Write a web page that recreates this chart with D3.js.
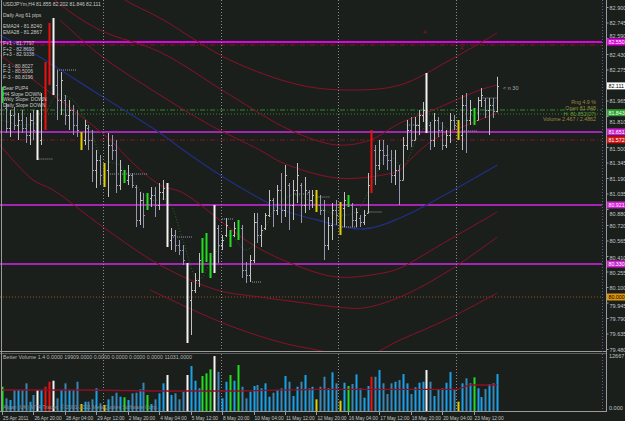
<!DOCTYPE html>
<html>
<head>
<meta charset="utf-8">
<script src="https://cdn.jsdelivr.net/npm/d3@7"></script>
<style>
  body { margin: 0; background: #1a1f1b; }
  svg text { font-family: "Liberation Sans", Arial, sans-serif; }
</style>
</head>
<body>
<div id="chart"></div>
<script>
// USDJPYm H4 bars
const highs = [82.10,81.94,81.87,81.90,81.84,81.87,81.80,81.84,81.87,81.87,
 82.04,82.35,82.74,82.79,82.27,82.25,82.02,81.97,81.92,81.87,
 81.65,81.77,81.72,81.67,81.47,81.42,81.34,81.64,81.62,81.57,
 81.37,81.27,81.32,81.24,81.12,81.05,81.04,81.04,81.10,81.10,
 81.14,81.17,81.14,80.69,80.67,80.57,80.52,80.34,80.15,80.24,
 80.44,80.59,80.64,80.44,80.92,80.72,80.62,80.79,80.67,80.75,
 80.77,80.72,80.35,80.42,80.84,80.84,80.72,80.84,81.07,80.99,
 81.12,81.24,81.32,81.14,81.17,81.34,81.14,81.20,81.07,81.07,
 81.07,81.02,80.97,80.80,80.94,80.97,80.95,81.05,81.02,80.94,
 80.89,80.82,80.87,81.24,81.67,81.52,81.57,81.57,81.52,81.47,
 81.47,81.32,81.60,81.77,81.80,81.80,81.87,81.95,82.24,81.75,
 81.84,81.80,81.75,81.67,81.84,81.82,81.77,82.02,82.04,81.97,
 81.89,82.00,82.09,81.99,81.99,81.99,82.202];
const lows = [81.94,81.64,81.60,81.67,81.57,81.64,81.54,81.52,81.57,81.37,
 81.52,81.67,82.12,82.02,81.77,81.82,81.72,81.67,81.62,81.60,
 81.47,81.52,81.47,81.15,81.09,81.12,81.10,81.00,81.37,81.04,
 81.07,81.14,81.12,81.09,80.70,80.72,80.69,80.87,80.90,80.80,
 80.87,80.97,80.50,80.47,80.45,80.42,80.32,79.54,79.62,80.04,
 80.10,80.24,80.35,80.19,80.24,80.34,80.47,80.60,80.50,80.60,
 80.57,80.19,80.14,80.15,80.34,80.54,80.50,80.67,80.80,80.70,
 80.82,80.74,80.80,80.67,80.77,80.94,80.74,80.84,80.87,80.89,
 80.85,80.82,80.37,80.47,80.57,80.72,80.62,80.70,80.90,80.70,
 80.70,80.70,80.72,80.84,81.04,81.12,81.27,81.32,81.27,81.14,
 81.12,80.92,81.17,81.47,81.50,81.57,81.62,81.75,81.64,81.47,
 81.50,81.60,81.47,81.49,81.54,81.67,81.57,81.47,81.44,81.72,
 81.72,81.77,81.90,81.79,81.62,81.79,81.846];
const opens = [81.97,81.89,81.69,81.82,81.72,81.77,81.69,81.62,81.77,81.67,
 81.57,81.97,82.27,82.67,82.12,81.97,81.97,81.82,81.87,81.72,
 81.62,81.57,81.69,81.57,81.27,81.37,81.22,81.27,81.52,81.47,
 81.12,81.25,81.17,81.22,81.10,80.77,80.97,80.89,80.99,81.02,
 80.92,81.05,81.09,80.57,80.62,80.52,80.47,80.32,79.97,80.07,
 80.17,80.35,80.52,80.42,80.27,80.69,80.52,80.62,80.65,80.62,
 80.69,80.69,80.27,80.22,80.37,80.75,80.62,80.69,80.82,80.97,
 80.87,81.07,80.87,81.12,80.92,81.07,81.12,80.92,81.05,80.97,
 81.02,80.92,80.87,80.52,80.72,80.87,80.82,80.89,80.97,80.92,
 80.77,80.79,80.75,80.84,81.12,81.47,81.32,81.47,81.42,81.37,
 81.22,81.27,81.17,81.52,81.67,81.57,81.72,81.82,81.87,81.72,
 81.57,81.77,81.67,81.52,81.62,81.77,81.72,81.62,81.92,81.77,
 81.87,81.77,81.97,81.97,81.87,81.92,81.855];
const closes = [82.07,81.69,81.82,81.72,81.77,81.69,81.62,81.77,81.67,81.47,
 81.97,82.27,82.67,82.12,81.97,82.17,81.82,81.87,81.72,81.67,
 81.52,81.72,81.57,81.27,81.37,81.22,81.27,81.52,81.47,81.12,
 81.27,81.17,81.22,81.12,80.77,80.97,80.82,80.99,81.02,80.92,
 81.05,81.09,80.57,80.62,80.52,80.47,80.37,79.97,80.07,80.17,
 80.37,80.52,80.42,80.27,80.82,80.52,80.57,80.72,80.57,80.69,
 80.72,80.27,80.22,80.37,80.75,80.62,80.67,80.82,80.97,80.87,
 81.07,80.87,81.22,80.92,81.07,81.22,80.92,81.07,80.97,81.02,
 80.92,80.87,80.52,80.72,80.87,80.82,80.89,80.97,80.92,80.77,
 80.85,80.75,80.82,81.12,81.57,81.32,81.47,81.42,81.37,81.22,
 81.27,81.17,81.52,81.67,81.57,81.72,81.82,81.87,81.72,81.57,
 81.77,81.67,81.52,81.62,81.77,81.72,81.62,81.92,81.77,81.87,
 81.77,81.97,82.02,81.87,81.92,81.86,82.111];
const volumes = [5490,2870,2490,4750,4750,4750,6260,2100,3620,4750,
 4750,5490,6620,6850,2870,4750,6260,4750,4750,6620,
 1580,2100,2100,2640,5130,1740,1360,2640,3390,4140,
 3230,3100,2490,4000,4140,4900,6400,3620,1580,2640,
 4000,6260,8140,3620,4000,2640,4360,8140,10170,6850,
 5130,7910,8520,9420,12430,8880,2870,6620,8140,6850,
 10400,5490,2870,4360,5650,5880,5130,6260,3230,4140,
 4750,5130,7910,6620,3390,5490,6620,8140,5130,5490,
 2640,5490,7750,5130,8750,6260,2330,6400,5650,6100,
 8290,5130,3010,5650,7750,7750,9270,6260,3840,6260,
 6620,7010,8360,6260,3840,5360,6400,6620,9270,6620,
 3390,4900,5130,6400,8810,4750,2100,6260,7390,6260,
 7620,5130,3160,4970,6100,6260,8360];

// Better Volume colour flags (bar index)
const greenBars = [0,31,37,51,52,53,58,60,88,120];
const redBars = [11,12,94];
const whiteBars = [9,13,42,47,54,108];
const yellowBars = [20,26,80,86,116];

// indicator lines, [bar index, price]
const emaBlue = [[-0.5,82.62],[7.9,82.44],[24.9,82.02],[40.2,81.64],[46.1,81.47],[54.7,81.24],[63.1,81.04],[71.5,80.87],[80.2,80.77],[91.9,80.68],[101.3,80.79],[114,81.05],[126,81.32]];
const bandU3 = [[22.4,83.22],[31.3,82.97],[40.2,82.79],[58,82.37],[75.8,82.12],[88.5,82.07],[101.3,82.12],[114,82.37],[126,82.64]];
const bandU2 = [[4.6,83.37],[13.5,82.97],[24.9,82.67],[40.2,82.45],[58,82.02],[73.3,81.67],[85.2,81.52],[93.7,81.57],[101.3,81.74],[109.7,81.87],[121.6,82.07],[126,82.12]];
const bandU1 = [[14.8,82.77],[24.9,82.42],[40.2,82.02],[52.9,81.72],[65.6,81.47],[71.5,81.34],[85.2,81.19],[96.9,81.22],[101.3,81.27],[103.8,81.37],[109.7,81.57],[118.3,81.72],[126,81.84]];
const bandL1 = [[-0.5,82.42],[10.4,82.10],[18.1,81.87],[27.5,81.57],[33.3,81.34],[40.2,81.12],[46.1,81.04],[63.1,80.54],[73.3,80.34],[85.2,80.20],[96.9,80.24],[101.3,80.29],[111.5,80.52],[126,80.85]];
const bandL2 = [[-0.5,81.52],[7.9,81.17],[13,81.07],[25.7,80.70],[40.2,80.32],[54.7,80.07],[65.6,80.00],[75.1,79.95],[85.2,79.90],[91.9,79.89],[101.3,80.00],[114,80.27],[126,80.60]];
const bandL3 = [[37.7,80.07],[48.6,79.87],[58.8,79.70],[71.5,79.54],[80.2,79.47],[91.1,79.39],[101.3,79.57],[114,79.79],[126,80.04]];
const maGreen = [[0,81.77],[6,81.72],[10,81.77],[14,82.02],[18,81.97],[22,81.72],[26,81.37],[30,81.32],[34,81.12],[38,80.97],[42,80.97],[46,80.57],[50,80.17],[54,80.42],[58,80.62],[62,80.47],[66,80.62],[70,80.92],[74,81.02],[78,80.97],[82,80.87],[86,80.82],[90,80.85],[94,81.12],[98,81.42],[102,81.32],[106,81.62],[110,81.77],[114,81.67],[118,81.77],[122,81.87],[126,81.97]];
const volMA = [[0,4750],[20,4750],[40,4520],[60,4520],[80,4900],[100,4900],[116,4900],[119,5880],[126,5880]];

// short pivot dashes [from bar, to bar, price]
const dashes = [[14,19,82.27],[9,13,81.38],[27,37,81.23],[43.5,48.6,80.60],[56,59,80.78],[63.6,66,80.15],[74,78,81.03],[80,83.5,81.00],[86.5,90.6,80.70],[93,96.7,80.85],[103,106,81.72],[117,121,81.66],[122,126,81.99]];

// horizontal levels
const levelPrices = [82.55, 82.52, 81.87, 81.83, 81.65, 81.57, 80.92, 80.33, 80.00];
const levelColors = ["#e000e0", "#8a1030", "#2f8a2f", "#2f8a2f", "#a424b4", "#8a1030", "#a424b4", "#a424b4", "#a0501c"];
const levelWidths = [2, 1, 1, 1, 2, 1, 2, 2, 1];
const levelDash = [null, "5,2,1,2", "5,2,1,2", "1,2", null, "5,2,1,2", null, null, "1,2"];

const boxPrices = [82.550, 82.111, 81.843, 81.651, 81.572, 80.921, 80.330, 80.000];
const boxFills = ["#e000e0", "#ffffff", "#2ea02e", "#d020d0", "#dd1010", "#d020d0", "#d020d0", "#e0960a"];
const boxText = ["#ffffff", "#000000", "#ffffff", "#ffffff", "#ffffff", "#ffffff", "#ffffff", "#000000"];

const priceTicks = [82.900, 82.745, 82.590, 82.430, 82.275, 82.115, 81.965, 81.810, 81.650, 81.500, 81.345, 81.190, 81.035, 80.880, 80.720, 80.565, 80.410, 80.255, 80.100, 79.945, 79.790, 79.635, 79.480];

const dateLabels = ["25 Apr 2011", "26 Apr 20:00", "28 Apr 04:00", "29 Apr 12:00", "2 May 20:00", "4 May 04:00", "5 May 12:00", "8 May 20:00", "10 May 04:00", "11 May 12:00", "12 May 20:00", "16 May 04:00", "17 May 12:00", "18 May 20:00", "20 May 04:00", "23 May 12:00"];
const dateIdx = [0, 8, 16, 24, 32, 40, 48, 56, 64, 72, 80, 88, 96, 104, 112, 120];
const weekStarts = [26, 56, 86, 116];

const infoLines = ["USDJPYm,H4  81.855 82.202 81.846 82.111", "", "Daily Avg 61 pips", "", "EMA24 - 81.8240", "EMA28 - 81.2867", "", "F+1 - 81.7797", "F+2 - 82.8690", "F+3 - 82.9336", "", "F-1 - 80.8027", "F-2 - 80.5006", "F-3 - 80.8196", "", "Bear PUP4", "H4 Slope DOWN", "Wkly Slope: DOWN", "Daily Slope DOWN"];
const statLines = ["Rng    4.9 %", "Open   81.848", "H:  81.852(27)", "Volume   2.467 / 2.4862"];

const width = 625, height = 421;
const X = d3.scaleLinear().domain([0, 126]).range([2, 497.2]);
const Y = d3.scaleLinear().domain([79.46, 82.97]).range([351, 0]);
const V = d3.scaleLinear().domain([0, 12667]).range([411, 355]);

const svg = d3.select("#chart").append("svg")
  .attr("width", width).attr("height", height);

svg.append("rect").attr("width", width).attr("height", height).attr("fill", "#1a1f1b");

const defs = svg.append("defs");
defs.append("clipPath").attr("id", "mainclip")
  .append("rect").attr("x", 0).attr("y", 0).attr("width", 602).attr("height", 351);

const main = svg.append("g").attr("clip-path", "url(#mainclip)");

// week separators
svg.selectAll(".sep").data(weekStarts).join("line")
  .attr("x1", d => Math.round(X(d) - 1.5) + 0.5).attr("x2", d => Math.round(X(d) - 1.5) + 0.5)
  .attr("y1", 0).attr("y2", 411)
  .attr("stroke", "#8a8a96").attr("stroke-dasharray", "1,2");

// levels
main.selectAll(".lvl").data(levelPrices).join("line")
  .attr("x1", 0).attr("x2", 602)
  .attr("y1", d => Y(d)).attr("y2", d => Y(d))
  .attr("stroke", (d, i) => levelColors[i])
  .attr("stroke-width", (d, i) => levelWidths[i])
  .attr("stroke-dasharray", (d, i) => levelDash[i]);

const line = d3.line().x(d => X(d[0])).y(d => Y(d[1])).curve(d3.curveCatmullRom.alpha(0.5));

[bandU3, bandU2, bandU1, bandL1, bandL2, bandL3].forEach(b => {
  main.append("path").attr("d", line(b)).attr("fill", "none")
    .attr("stroke", "#8c1028").attr("stroke-width", 1);
});
main.append("path").attr("d", line(emaBlue)).attr("fill", "none")
  .attr("stroke", "#222e82").attr("stroke-width", 1.3);
main.append("path").attr("d", line(maGreen)).attr("fill", "none")
  .attr("stroke", "#1f6a1f").attr("stroke-width", 1).attr("stroke-dasharray", "1,2");

// pivot dashes
main.selectAll(".dash").data(dashes).join("line")
  .attr("x1", d => X(d[0])).attr("x2", d => X(d[1]))
  .attr("y1", d => Y(d[2])).attr("y2", d => Y(d[2]))
  .attr("stroke", "#9a9aae").attr("stroke-dasharray", "1,1");

function special(i) {
  if (greenBars.includes(i)) return "#22dd22";
  if (redBars.includes(i)) return "#ee1111";
  if (whiteBars.includes(i)) return "#f4f4f4";
  if (yellowBars.includes(i)) return "#e0d000";
  return null;
}

const bars = d3.range(highs.length);
const barG = main.selectAll(".bar").data(bars).join("g");
barG.each(function (i) {
  const g = d3.select(this);
  const col = special(i);
  const x = Math.round(X(i)) + 0.5;
  if (col) {
    g.append("rect").attr("x", x - 1).attr("width", 2)
      .attr("y", Y(highs[i])).attr("height", Y(lows[i]) - Y(highs[i]))
      .attr("fill", col);
  } else {
    const c = closes[i] >= opens[i] ? "#c2c2c2" : "#9696b2";
    g.append("line").attr("x1", x).attr("x2", x)
      .attr("y1", Y(highs[i])).attr("y2", Y(lows[i])).attr("stroke", c);
    g.append("line").attr("x1", x - 1.5).attr("x2", x)
      .attr("y1", Math.round(Y(opens[i])) + 0.5).attr("y2", Math.round(Y(opens[i])) + 0.5).attr("stroke", c);
    g.append("line").attr("x1", x).attr("x2", x + 1.5)
      .attr("y1", Math.round(Y(closes[i])) + 0.5).attr("y2", Math.round(Y(closes[i])) + 0.5).attr("stroke", c);
  }
});

// volume panel
svg.selectAll(".vol").data(bars).join("rect")
  .attr("x", i => Math.round(X(i)) - 0.5).attr("width", 2)
  .attr("y", i => V(volumes[i])).attr("height", i => 411 - V(volumes[i]))
  .attr("fill", i => special(i) || (closes[i] >= opens[i] ? "#18a2ec" : "#3a86b4"));

svg.append("path").attr("d", d3.line().x(d => X(d[0])).y(d => V(d[1]))(volMA))
  .attr("fill", "none").attr("stroke", "#8c1028").attr("stroke-width", 1.3);

// frame
svg.append("line").attr("x1", 0).attr("x2", 607).attr("y1", 351.5).attr("y2", 351.5).attr("stroke", "#9a9a9a");
svg.append("line").attr("x1", 0).attr("x2", 607).attr("y1", 353.5).attr("y2", 353.5).attr("stroke", "#5a5a5a");
svg.append("line").attr("x1", 0).attr("x2", 607).attr("y1", 411.5).attr("y2", 411.5).attr("stroke", "#9a9a9a");
svg.append("line").attr("x1", 1.5).attr("x2", 1.5).attr("y1", 0).attr("y2", 412).attr("stroke", "#9a9a9a");
svg.append("line").attr("x1", 606.5).attr("x2", 606.5).attr("y1", 0).attr("y2", 412).attr("stroke", "#9a9a9a");
svg.append("line").attr("x1", 602.5).attr("x2", 602.5).attr("y1", 0).attr("y2", 411)
  .attr("stroke", "#5a5aa0").attr("stroke-dasharray", "1,2");

// price axis; labels next to a price box are nudged clear of it or hidden under it
const yAxis = d3.axisRight(Y).tickValues(priceTicks).tickSize(2).tickFormat(d3.format(".3f"));
const ya = svg.append("g").attr("transform", "translate(606.5,0)").call(yAxis);
ya.select(".domain").remove();
ya.selectAll("line").attr("stroke", "#9a9a9a");
ya.selectAll("text").attr("fill", "#c4c4c4").attr("font-size", 5.5).attr("x", 3).attr("dy", null).attr("y", 2);
ya.selectAll(".tick").each(function (t) {
  const near = boxPrices.map(b => Y(t) - Y(b)).sort((a, b) => Math.abs(a) - Math.abs(b))[0];
  const txt = d3.select(this).select("text");
  if (Math.abs(near) < 3.2) txt.remove();
  else if (near < 0 && near > -8) txt.attr("y", -near - 4.3);
  else if (near > 0 && near < 9) txt.attr("y", 2 + (8.6 - near));
});

// level boxes
const box = svg.selectAll(".box").data(boxPrices).join("g")
  .attr("transform", d => `translate(607,${Y(d) - 3.5})`);
box.append("rect").attr("width", 18).attr("height", 7).attr("fill", (d, i) => boxFills[i]);
box.append("text").attr("x", 1.5).attr("y", 5.5).attr("font-size", 5.3)
  .attr("fill", (d, i) => boxText[i]).text(d => d3.format(".3f")(d));

// volume axis labels
svg.append("text").attr("x", 609).attr("y", 358).attr("font-size", 5.5).attr("fill", "#c4c4c4").text("12667");
svg.append("text").attr("x", 609).attr("y", 410).attr("font-size", 5.5).attr("fill", "#c4c4c4").text("0.000");

// time axis
const xa = svg.append("g");
xa.selectAll("line").data(dateIdx).join("line")
  .attr("x1", d => Math.round(X(d)) + 0.5).attr("x2", d => Math.round(X(d)) + 0.5)
  .attr("y1", 412).attr("y2", 415).attr("stroke", "#9a9a9a");
xa.selectAll("text").data(dateIdx).join("text")
  .attr("x", d => X(d) + 1).attr("y", 420).attr("font-size", 4.8).attr("fill", "#c4c4c4")
  .text((d, i) => dateLabels[i]);

// text overlays
svg.selectAll(".info").data(infoLines).join("text")
  .attr("x", 3).attr("y", (d, i) => 6 + i * 5.6)
  .attr("font-size", 5).attr("fill", "#c8c8c8").text(d => d);

svg.selectAll(".stat").data(statLines).join("text")
  .attr("x", 596).attr("y", (d, i) => 104 + i * 5.8).attr("text-anchor", "end")
  .attr("font-size", 5.3).attr("fill", (d, i) => i === 2 ? "#6e9a38" : "#9a8a3c").text(d => d);

svg.append("text").attr("x", 503).attr("y", 90).attr("font-size", 5.5).attr("fill", "#a8a8a8").text("< n 30");
svg.append("text").attr("x", 423).attr("y", 34).attr("font-size", 6).attr("fill", "#8c1028").text("4");
svg.append("text").attr("x", 460).attr("y", 50).attr("font-size", 6).attr("fill", "#8c1028").text("4");

svg.append("text").attr("x", 3).attr("y", 359).attr("font-size", 5.3).attr("fill", "#b4b4b4")
  .text("Better Volume 1.4  0.0000 19909.0000 0.0000 0.0000 0.0000 0.0000 11031.0000");
svg.append("text").attr("x", 3).attr("y", 409).attr("font-size", 5.3).attr("fill", "#8a8a8a")
  .text("Alpari (UK) MT4 Trader, \u00a9 2001-2011 MetaQuotes Software Corp.");
</script>
</body>
</html>
